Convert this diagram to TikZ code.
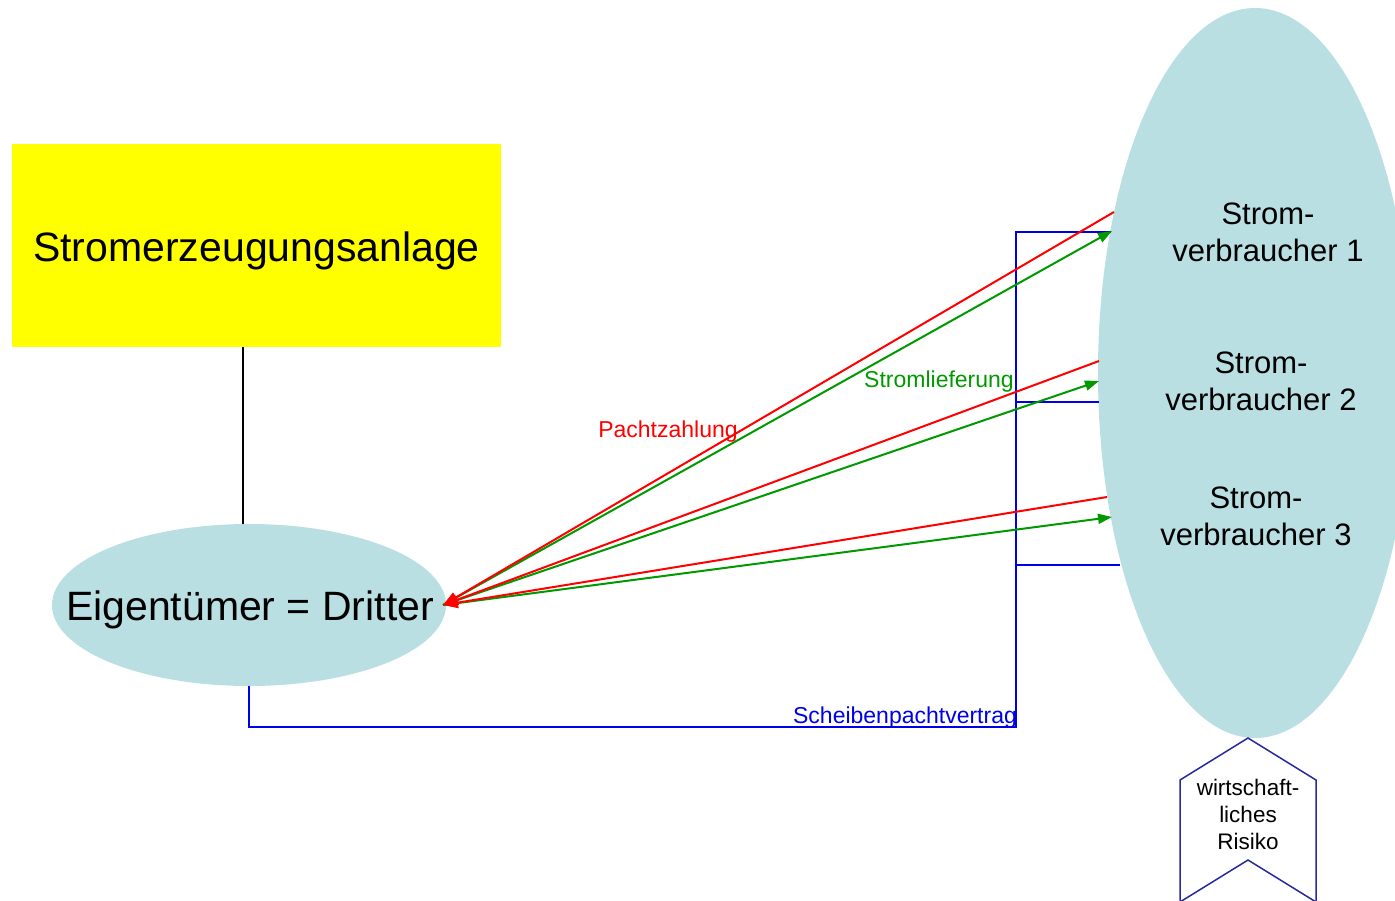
\documentclass[tikz,border=0pt]{standalone}
\usepackage{fontspec}
\setmainfont{Liberation Sans}
\usetikzlibrary{shapes.geometric,arrows.meta}
\definecolor{lblue}{RGB}{185,223,227}
\definecolor{dgreen}{RGB}{0,153,0}
\definecolor{cblue}{RGB}{0,0,230}
\definecolor{navy}{RGB}{40,40,160}
\definecolor{pyellow}{RGB}{255,255,0}
\tikzset{
  anlagebox/.style={fill=pyellow, minimum width=489pt, minimum height=203pt, inner sep=0pt},
  bigtext/.style={inner sep=0pt, font=\fontsize{41}{48}\selectfont},
  smallell/.style={ellipse, fill=lblue, minimum width=394pt, minimum height=162pt, inner sep=0pt},
  bigell/.style={ellipse, fill=lblue, minimum width=314pt, minimum height=730pt, inner sep=0pt},
  vlab/.style={align=center, inner sep=0pt, font=\fontsize{31}{37}\selectfont},
  smalllab/.style={inner sep=0pt, font=\fontsize{23}{26}\selectfont},
  risklab/.style={align=center, inner sep=0pt, font=\fontsize{22.5}{27}\selectfont},
  redline/.style={red, line width=2pt, -{Triangle[length=15pt,width=11pt]}},
  greenline/.style={dgreen, line width=2pt, -{Triangle[length=14pt,width=10pt]}},
  blueline/.style={cblue, line width=1.6pt},
  chevron/.style={navy, line width=1.5pt, fill=white},
}
\begin{document}
\begin{tikzpicture}[x=1pt,y=-1pt]
\useasboundingbox (0,0) rectangle (1395,900);
\clip (0,0) rectangle (1395,900);

% shapes
\node[anlagebox] (anlage) at (256.5,245.5) {};
\node[bigtext] (anlagetext) at (256.5,251) {Stromerzeugungsanlage};
\node[smallell] (eig) at (249,605) {};
\node[bigtext] (eigtext) at (250,610) {Eigentümer = Dritter};
\node[bigell] (verb) at (1255,373) {};
\node[vlab] (v1) at (1268,232.5) {Strom-\\verbraucher 1};
\node[vlab] (v2) at (1261,381.5) {Strom-\\verbraucher 2};
\node[vlab] (v3) at (1256,516.5) {Strom-\\verbraucher 3};

% chevron
\draw[chevron] (1248,738) -- (1316,780) -- (1316,902) -- (1248,860) -- (1180,902) -- (1180,780) -- cycle;
\node[risklab] (risk) at (1248,814) {wirtschaft-\\liches\\Risiko};

% coordinates
\coordinate (vx) at (243,0);
\coordinate (bcorner) at (1016,727);
\coordinate (btop) at (1016,232);
\coordinate (bmid) at (1016,402);
\coordinate (blow) at (1016,565);
\coordinate (e1b) at (1111,232);
\coordinate (e2b) at (1099,402);
\coordinate (e3b) at (1120,565);
\coordinate (r1) at (1114,212);
\coordinate (r2) at (1099,361);
\coordinate (r3) at (1107,497);
\coordinate (g1) at (1112,231);
\coordinate (g2) at (1099,381);
\coordinate (g3) at (1112,517);
\coordinate (tip) at (443,605);

% black connector
\draw[black, line width=1.3pt] (anlage.south -| vx) -- (eig.north -| vx);

% blue contract lines
\draw[blueline] (eig.south) |- (bcorner) -- (btop) -- (e1b);
\draw[blueline] (bmid) -- (e2b);
\draw[blueline] (blow) -- (e3b);

% green and red
\draw[greenline] (tip) -- (g1);
\draw[greenline] (tip) -- (g2);
\draw[greenline] (tip) -- (g3);
\draw[redline] (r1) -- (tip);
\draw[redline] (r2) -- (tip);
\draw[redline] (r3) -- (tip);

% labels
\node[smalllab, red] (pz) at (668,432) {Pachtzahlung};
\node[smalllab, dgreen] (sl) at (939,382) {Stromlieferung};
\node[smalllab, cblue] (sp) at (905,718) {Scheibenpachtvertrag};
\end{tikzpicture}
\end{document}
